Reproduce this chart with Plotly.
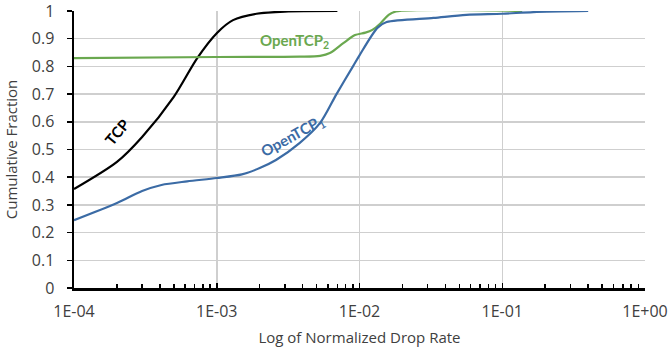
import plotly.graph_objects as go

tcp_x = [1e-4, 2e-4, 3e-4, 5e-4, 7.3e-4, 1e-3, 1.3e-3, 1.9e-3, 3e-3, 7e-3]
tcp_y = [0.357, 0.455, 0.545, 0.69, 0.83, 0.92, 0.967, 0.99, 0.998, 1.0]

otcp2_x = [1e-4, 1e-3, 3.8e-3, 5.3e-3, 6.2e-3, 7.7e-3, 9.3e-3, 1.1e-2, 1.23e-2, 1.4e-2, 1.6e-2, 1.8e-2, 0.138]
otcp2_y = [0.83, 0.834, 0.835, 0.838, 0.848, 0.884, 0.913, 0.922, 0.932, 0.955, 0.986, 0.998, 1.0]

otcp1_x = [1e-4, 2e-4, 3e-4, 4.1e-4, 6.2e-4, 1e-3, 1.5e-3, 2e-3, 2.6e-3, 3.8e-3, 5.3e-3,
           6.9e-3, 9e-3, 1e-2, 1.34e-2, 1.55e-2, 3.3e-2, 5.6e-2, 0.1, 0.165, 0.4]
otcp1_y = [0.245, 0.307, 0.35, 0.372, 0.385, 0.397, 0.41, 0.433, 0.462, 0.523, 0.596,
           0.70, 0.80, 0.84, 0.94, 0.96, 0.975, 0.986, 0.99, 0.996, 1.0]

x_tickvals = [1e-4, 1e-3, 1e-2, 1e-1, 1]
x_ticktext = ["1E-04", "1E-03", "1E-02", "1E-01", "1E+00"]
y_tickvals = [0, 0.1, 0.2, 0.3, 0.4, 0.5, 0.6, 0.7, 0.8, 0.9, 1]
y_ticktext = ["0", "0.1", "0.2", "0.3", "0.4", "0.5", "0.6", "0.7", "0.8", "0.9", "1"]

BLACK = "#000000"
GREEN = "#6aa84f"
BLUE = "#3b6ba5"
GRID = "#cfcfcf"

fig = go.Figure()
fig.add_trace(go.Scatter(x=tcp_x, y=tcp_y, mode="lines", line=dict(color=BLACK, width=2.2, shape="spline", smoothing=0.8), name="TCP"))
fig.add_trace(go.Scatter(x=otcp2_x, y=otcp2_y, mode="lines", line=dict(color=GREEN, width=2.2, shape="spline", smoothing=0.8), name="OpenTCP2"))
fig.add_trace(go.Scatter(x=otcp1_x, y=otcp1_y, mode="lines", line=dict(color=BLUE, width=2.2, shape="spline", smoothing=0.8), name="OpenTCP1"))

font_main = "'Open Sans', Lato, sans-serif"
lab_font = "Lato, 'Open Sans', sans-serif"

fig.update_layout(
    width=668, height=347,
    margin=dict(l=74, r=23, t=11, b=59, autoexpand=False),
    paper_bgcolor="white", plot_bgcolor="white",
    showlegend=False,
    font=dict(family=font_main, color="#404040", size=14),
    xaxis=dict(
        type="log", range=[-4, 0], automargin=False,
        tickmode="array", tickvals=x_tickvals, ticktext=x_ticktext,
        showgrid=True, gridcolor=GRID, gridwidth=1.5,
        showline=True, linecolor="black", linewidth=2.5,
        ticks="inside", ticklen=5, tickcolor="black", tickwidth=1.5,
        minor=dict(tickvals=[k * 10 ** e for e in range(-4, 0) for k in range(2, 10)],
                   ticks="inside", ticklen=4, tickcolor="black", tickwidth=1.5, showgrid=False),
        tickfont=dict(size=16, color="#404040"),
        title=dict(text="Log of Normalized Drop Rate", font=dict(size=15, color="#404040"), standoff=12),
        ticklabelstandoff=7,
        ticklabeloverflow="allow",
        zeroline=False,
    ),
    yaxis=dict(
        range=[0, 1], automargin=False,
        tickmode="array", tickvals=y_tickvals, ticktext=y_ticktext,
        showgrid=True, gridcolor=GRID, gridwidth=1.5,
        showline=True, linecolor="black", linewidth=2.5,
        ticks="outside", ticklen=5, tickcolor="black", tickwidth=1.5,
        tickfont=dict(size=16, color="#404040"),
        ticklabelstandoff=9,
        ticklabeloverflow="allow",
        title=dict(text="Cumulative Fraction", font=dict(size=15, color="#404040"), standoff=11),
        zeroline=False,
    ),
    annotations=[
        dict(x=-3.70, y=0.563, xref="x", yref="y", text="<b>TCP</b>", showarrow=False,
             textangle=-50, font=dict(family=lab_font, size=15, color=BLACK)),
        dict(x=-2.452, y=0.893, xref="x", yref="y", text="<b>OpenTCP<sub>2</sub></b>", showarrow=False,
             font=dict(family=lab_font, size=15, color=GREEN)),
        dict(x=-2.466, y=0.549, xref="x", yref="y", text="<b>OpenTCP<sub>1</sub></b>", showarrow=False,
             textangle=-29, font=dict(family=lab_font, size=15, color=BLUE)),
    ],
)

fig.write_html("out.html", config={"displayModeBar": False, "staticPlot": True},
               post_script="document.body.style.margin='0';document.body.style.overflow='hidden';")
